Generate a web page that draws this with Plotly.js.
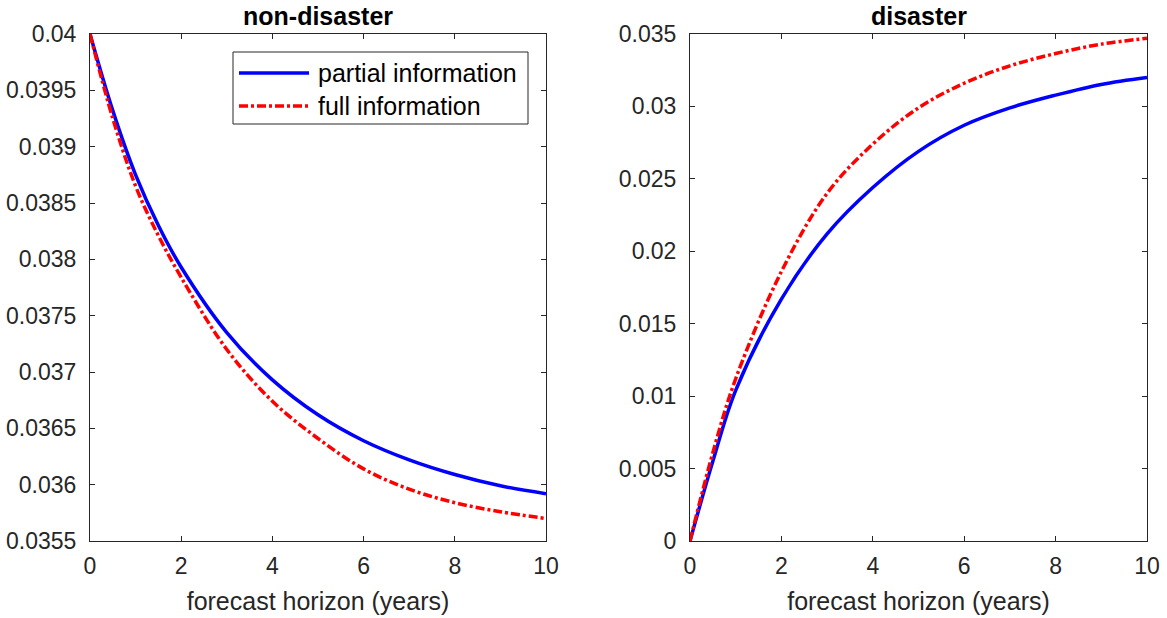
<!DOCTYPE html>
<html>
<head>
<meta charset="utf-8">
<script src="https://cdn.plot.ly/plotly-3.0.1.min.js"></script>
<style>html,body{margin:0;padding:0;background:#fff;}#chart{width:1167px;height:618px;}</style>
</head>
<body>
<div id="chart"></div>
<script>
// ---- data ----
const horizonX = [0, 0.5, 1, 1.5, 2, 3, 4, 5, 6, 7, 8, 9, 10];
const leftPartialY = [0.04, 0.03932, 0.03875, 0.0383, 0.03793, 0.03735, 0.03693, 0.03662, 0.03639, 0.03622, 0.03609, 0.03599, 0.03592];
const leftFullY = [0.04, 0.03925, 0.03865, 0.03821, 0.03784, 0.0372, 0.03674, 0.03641, 0.03614, 0.03596, 0.03584, 0.03576, 0.0357];
const rightX = [0, 0.5, 1, 2, 3, 4, 5, 6, 7, 8, 9, 10];
const rightPartialY = [0, 0.0055, 0.0104, 0.0167, 0.0212, 0.0244, 0.0269, 0.0287, 0.0299, 0.03078, 0.03152, 0.032];
const rightFullY = [0, 0.0061, 0.0112, 0.0186, 0.024, 0.0274, 0.0299, 0.0316, 0.0328, 0.03365, 0.0343, 0.0347];
const seriesNames = ["partial information", "full information"];
const panelTitles = ["non-disaster", "disaster"];
const xAxisTitle = "forecast horizon (years)";
const leftYTicks = [0.0355, 0.036, 0.0365, 0.037, 0.0375, 0.038, 0.0385, 0.039, 0.0395, 0.04];
const rightYTicks = [0, 0.005, 0.01, 0.015, 0.02, 0.025, 0.03, 0.035];
const xTicks = [0, 2, 4, 6, 8, 10];

const BLUE = "#0000ff", RED = "#ff0000", AX = "#262626";
const FONT = "Liberation Sans, Arial, sans-serif";
const dashDot = "9px,3px,3px,3px";
const LW = 3.5;

const traces = [
  {x: horizonX, y: leftPartialY, xaxis: "x", yaxis: "y", name: seriesNames[0], mode: "lines",
   line: {color: BLUE, width: LW, shape: "spline", smoothing: 1}},
  {x: horizonX, y: leftFullY, xaxis: "x", yaxis: "y", name: seriesNames[1], mode: "lines",
   line: {color: RED, width: LW, dash: dashDot, shape: "spline", smoothing: 1}},
  {x: rightX, y: rightPartialY, xaxis: "x2", yaxis: "y2", name: seriesNames[0], mode: "lines",
   line: {color: BLUE, width: LW, shape: "spline", smoothing: 1}},
  {x: rightX, y: rightFullY, xaxis: "x2", yaxis: "y2", name: seriesNames[1], mode: "lines",
   line: {color: RED, width: LW, dash: dashDot, shape: "spline", smoothing: 1}}
];

const W = 1167, H = 618;
const yDom = [(H - 541) / H, (H - 34) / H];
function xax(dom, anchor) {
  return {
    domain: dom, anchor: anchor, range: [0, 10], tickvals: xTicks, ticktext: xTicks.map(String),
    showline: true, linecolor: AX, linewidth: 1, mirror: "ticks", ticks: "inside", ticklen: 5, tickcolor: AX,
    showgrid: false, zeroline: false, tickfont: {family: FONT, size: 23, color: AX}, ticklabelstandoff: 4,
    title: {text: xAxisTitle, font: {family: FONT, size: 25, color: AX}, standoff: 14}, automargin: false
  };
}
function yax(ticks, range, anchor) {
  return {
    domain: yDom, anchor: anchor, range: range, tickvals: ticks, ticktext: ticks.map(String),
    showline: true, linecolor: AX, linewidth: 1, mirror: "ticks", ticks: "inside", ticklen: 5, tickcolor: AX,
    showgrid: false, zeroline: false, tickfont: {family: FONT, size: 23, color: AX}, ticklabelstandoff: 8,
    automargin: false
  };
}

// legend drawn in paper space (box, two sample lines, two labels)
const px = v => v / W, py = v => 1 - v / H;
const legendShapes = [
  {type: "rect", xref: "paper", yref: "paper", x0: px(233), x1: px(528), y0: py(52), y1: py(124),
   line: {color: AX, width: 1}, fillcolor: "#fff", layer: "above"},
  {type: "line", xref: "paper", yref: "paper", x0: px(239), x1: px(309), y0: py(73), y1: py(73),
   line: {color: BLUE, width: LW}, layer: "above"},
  {type: "line", xref: "paper", yref: "paper", x0: px(239), x1: px(309), y0: py(106), y1: py(106),
   line: {color: RED, width: LW, dash: dashDot}, layer: "above"}
];
const legendLabels = seriesNames.map((s, i) => ({
  text: s, xref: "paper", yref: "paper", x: px(316), y: py(i === 0 ? 73 : 106),
  xanchor: "left", yanchor: "middle", showarrow: false, font: {family: FONT, size: 25, color: "#000"}
}));

const layout = {
  width: W, height: H, margin: {l: 0, r: 0, t: 0, b: 0},
  paper_bgcolor: "#fff", plot_bgcolor: "#fff",
  xaxis: xax([90 / W, 546 / W], "y"),
  yaxis: yax(leftYTicks, [0.0355, 0.04], "x"),
  xaxis2: xax([690 / W, 1147 / W], "y2"),
  yaxis2: yax(rightYTicks, [0, 0.035], "x2"),
  showlegend: false,
  shapes: legendShapes,
  annotations: [
    {text: "<b>" + panelTitles[0] + "</b>", xref: "paper", yref: "paper", x: 318 / W, y: (H - 16) / H,
     xanchor: "center", yanchor: "middle", showarrow: false, font: {family: FONT, size: 25, color: "#000"}},
    {text: "<b>" + panelTitles[1] + "</b>", xref: "paper", yref: "paper", x: 918.5 / W, y: (H - 16) / H,
     xanchor: "center", yanchor: "middle", showarrow: false, font: {family: FONT, size: 25, color: "#000"}}
  ].concat(legendLabels)
};

Plotly.newPlot("chart", traces, layout, {staticPlot: true, displayModeBar: false});
</script>
</body>
</html>
